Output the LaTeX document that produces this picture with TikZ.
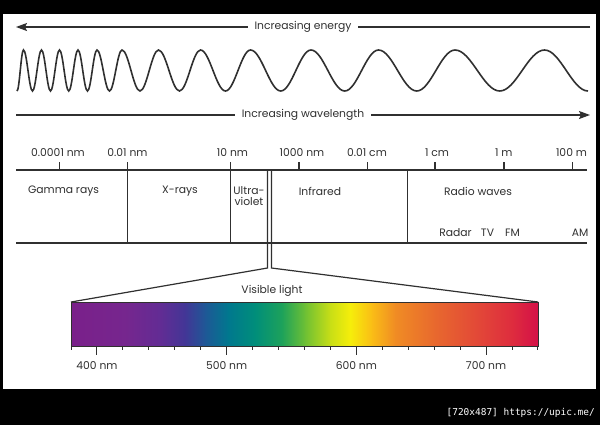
\documentclass[tikz,border=0pt]{standalone}
\usepackage{fontspec}
\setmainfont{Poppins}
\newfontfamily\stampfont{DejaVu Sans Mono}
\usetikzlibrary{arrows.meta, positioning}
\definecolor{inkgray}{RGB}{48,48,48}
\definecolor{specA}{RGB}{122,32,138}
\definecolor{specB}{RGB}{118,38,142}
\definecolor{specC}{RGB}{98,44,148}
\definecolor{specD}{RGB}{66,54,150}
\definecolor{specE}{RGB}{30,88,150}
\definecolor{specF}{RGB}{0,120,142}
\definecolor{specG}{RGB}{0,142,122}
\definecolor{specH}{RGB}{30,162,90}
\definecolor{specI}{RGB}{110,192,52}
\definecolor{specJ}{RGB}{200,222,22}
\definecolor{specK}{RGB}{246,238,10}
\definecolor{specL}{RGB}{250,188,22}
\definecolor{specM}{RGB}{240,140,36}
\definecolor{specN}{RGB}{232,104,46}
\definecolor{specO}{RGB}{226,70,56}
\definecolor{specP}{RGB}{222,44,62}
\definecolor{specQ}{RGB}{212,16,72}
\tikzset{
  rule/.style={draw=inkgray, line width=1.2bp},
  waveline/.style={draw=inkgray, line width=1.6bp},
  arrow/.style={rule, -{Stealth[length=11bp, width=8bp, inset=2bp]}},
  txt/.style={text=inkgray, inner sep=0pt, font=\fontsize{10.8}{11.8}\selectfont},
  headtxt/.style={txt, fill=white, inner xsep=7bp, inner ysep=2bp},
}

\begin{document}
\begin{tikzpicture}[x=1bp, y=-1bp]
  % frame
  \fill[black] (0,0) rectangle (600,425);
  \fill[white] (3,14) rectangle (596,389);
  \useasboundingbox (0,0) rectangle (600,425);

  % energy / wavelength arrows
  \coordinate (energyW) at (16,27);
  \coordinate (energyE) at (590,27);
  \draw[arrow] (energyE) -- node[headtxt] (energy) {Increasing energy} (energyW);
  \coordinate (lengthW) at (16,115);
  \coordinate (lengthE) at (590,115);
  \draw[arrow] (lengthW) -- node[headtxt] (wavelength) {Increasing wavelength} (lengthE);

  % the wave, one period per triple: trough / crest / trough
  \draw[waveline] (17,91)
    \foreach \ta/\pk/\tb in {17/23.5/32.5, 32.5/41.5/50.5, 50.5/59.5/68.75,
        68.75/78/87.5, 87.5/97/109.5, 109.5/122/140, 140/158.5/179.5,
        179.5/200.5/225.5, 225.5/250.5/280.75, 280.75/311/344.75,
        344.75/378.5/416.75, 416.75/455/499.75, 499.75/544.5/588}
    { cos ({(\ta+\pk)/2},70.5) sin (\pk,50) cos ({(\pk+\tb)/2},70.5) sin (\tb,91) };

  % scale and bands
  \foreach \x/\t [count=\i] in {58/0.0001 nm, 127.5/0.01 nm, 232.5/10 nm,
      302/1000 nm, 367/0.01 cm, 437/1 cm, 503.7/1 m, 571.5/100 m}
    \node[txt] (scale\i) at (\x,153) {\t};
  \foreach \x in {59.3, 299, 367.7, 435, 504, 572.7}
    \draw[rule] (\x,162) -- (\x,170);
  \draw[rule] (16,170) -- (587,170);
  \draw[rule] (16,243) -- (587,243);
  \foreach \x in {127.3, 230.5}
    \draw[rule] (\x,162) -- (\x,243);
  \draw[rule] (407.3,170) -- (407.3,243);

  \node[txt] (gamma) at (63.5,191.5) {Gamma rays};
  \node[txt] (xrays) at (180,191.5) {X-rays};
  \node[txt, align=center, anchor=north] (uv) at (249,186) {Ultra-\\violet};
  \node[txt] (infrared) at (320,191.5) {Infrared};
  \node[txt] (radio) at (478,191.5) {Radio waves};
  \node[txt] (radar) at (455.5,233) {Radar};
  \node[txt] (tv) at (487.5,233) {TV};
  \node[txt] (fm) at (512.5,233) {FM};
  \node[txt] (am) at (580,233) {AM};

  % visible light
  \coordinate (barNW) at (71,302);
  \coordinate (barNE) at (538,302);
  \coordinate (visW) at (267.5,268);
  \coordinate (visE) at (271.5,268);
  \foreach \xa/\xb/\ca/\cb in {71/125/specA/specB, 125/160/specB/specC,
      160/185/specC/specD, 185/205/specD/specE, 205/228/specE/specF,
      228/255/specF/specG, 255/282/specG/specH, 282/305/specH/specI,
      305/330/specI/specJ, 330/350/specJ/specK, 350/372/specK/specL,
      372/395/specL/specM, 395/435/specM/specN, 435/480/specN/specO,
      480/512/specO/specP, 512/538/specP/specQ}
    \shade[left color=\ca, right color=\cb] (\xa,302) rectangle (\xb+0.6,346);
  \draw[inkgray, line width=0.8bp] (barNW) rectangle (538,346);
  \draw[rule] (267.5,170) -- (visW) -- (barNW);
  \draw[rule] (271.5,170) -- (visE) -- (barNE);
  \node[txt] (visible) at (272,291) {Visible light};

  \foreach \n in {380,400,...,740}
    \draw[inkgray, line width=0.9bp] ({71+(\n-380)*1.297},346) -- ++(0,4);
  \foreach \n in {400,500,600,700} {
    \draw[inkgray, line width=0.9bp] ({71+(\n-380)*1.297},346) -- ++(0,9);
    \node[txt] (nm\n) at ({71+(\n-380)*1.297},366) {\n\ nm};
  }

  \node[anchor=east, inner sep=0pt, text=white,
        font=\stampfont\fontsize{9.5}{11}\selectfont] (stamp) at (595,413)
        {[720x487] https://upic.me/};
\end{tikzpicture}
\end{document}
